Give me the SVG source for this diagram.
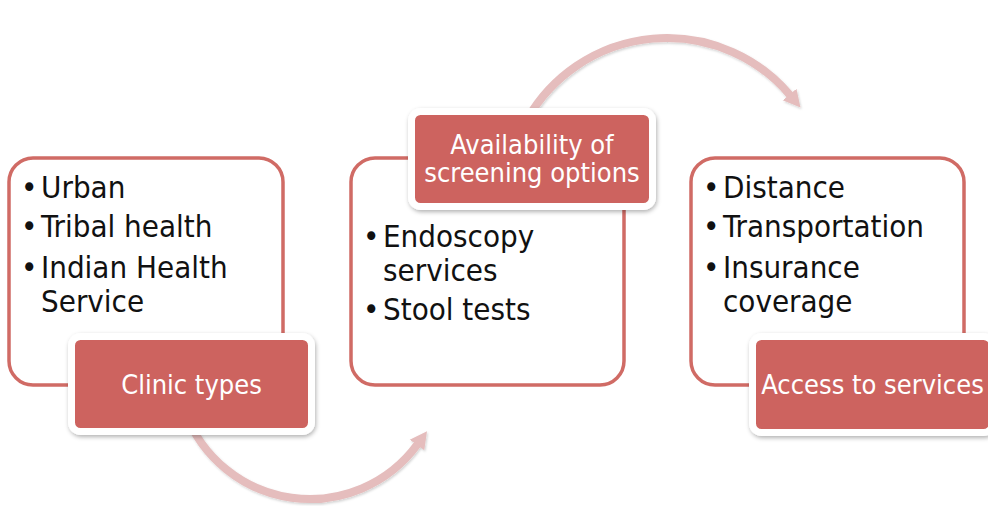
<svg xmlns="http://www.w3.org/2000/svg" width="988" height="506" viewBox="0 0 988 506">
<defs>
<style>
.box{fill:#ffffff;stroke:#D06B65;stroke-width:3.5}
.lab{fill:#CD645E;stroke:#ffffff;stroke-width:7;filter:url(#sh)}
.arc{fill:none;stroke:#E5BDBD;stroke-width:8;filter:url(#sh2)}
.body{font-family:'DejaVu Sans Condensed','DejaVu Sans',sans-serif;font-stretch:condensed;font-size:31px;fill:#111111}
.lt{font-family:'DejaVu Sans Condensed','DejaVu Sans',sans-serif;font-stretch:condensed;font-size:27px;fill:#ffffff;text-anchor:middle}
</style>
<filter id="sh" x="-10%" y="-10%" width="125%" height="130%">
<feDropShadow dx="1" dy="2" stdDeviation="2" flood-color="#000" flood-opacity="0.3"/>
</filter>
<filter id="sh2" x="-10%" y="-10%" width="125%" height="130%">
<feDropShadow dx="1" dy="1.5" stdDeviation="1.2" flood-color="#000" flood-opacity="0.18"/>
</filter>
<marker id="ah" markerUnits="userSpaceOnUse" markerWidth="20" markerHeight="22" viewBox="0 0 20 22" refX="1" refY="11" orient="auto">
<path d="M0,2 L17,11 L0,20 Z" fill="#E5BDBD"/>
</marker>
</defs>
<g id="connectors">
<path class="arc" d="M185,411.5 A133,133 0 0 0 417.6,444.2" marker-end="url(#ah)"/>
<path class="arc" d="M527.6,118.5 A161,161 0 0 1 790.2,95.3" marker-end="url(#ah)"/>
</g>
<g id="clinic-types">
<rect class="box" x="9" y="158" width="274" height="227" rx="24"/>
<text class="body"><tspan x="21" y="198">•</tspan><tspan x="41" y="198">Urban</tspan></text>
<text class="body"><tspan x="21" y="237">•</tspan><tspan x="41" y="237">Tribal health</tspan></text>
<text class="body"><tspan x="21" y="278">•</tspan><tspan x="41" y="278">Indian Health</tspan><tspan x="41" y="312">Service</tspan></text>
<rect class="lab" x="71.5" y="336.5" width="240" height="95" rx="9"/>
<text class="lt" x="191.5" y="394">Clinic types</text>
</g>
<g id="screening-options">
<rect class="box" x="351" y="158" width="273" height="227" rx="24"/>
<text class="body"><tspan x="363" y="247">•</tspan><tspan x="383" y="247">Endoscopy</tspan><tspan x="383" y="281">services</tspan></text>
<text class="body"><tspan x="363" y="320">•</tspan><tspan x="383" y="320">Stool tests</tspan></text>
<rect class="lab" x="411.5" y="111.5" width="241" height="95" rx="9"/>
<text class="lt" x="532" y="154">Availability of</text>
<text class="lt" x="532" y="182">screening options</text>
</g>
<g id="access-to-services">
<rect class="box" x="691" y="158" width="273" height="227" rx="24"/>
<text class="body"><tspan x="703" y="198">•</tspan><tspan x="723" y="198">Distance</tspan></text>
<text class="body"><tspan x="703" y="237">•</tspan><tspan x="723" y="237">Transportation</tspan></text>
<text class="body"><tspan x="703" y="278">•</tspan><tspan x="723" y="278">Insurance</tspan><tspan x="723" y="312">coverage</tspan></text>
<rect class="lab" x="752.5" y="336.5" width="240" height="96" rx="9"/>
<text class="lt" x="872.5" y="394">Access to services</text>
</g>
</svg>
